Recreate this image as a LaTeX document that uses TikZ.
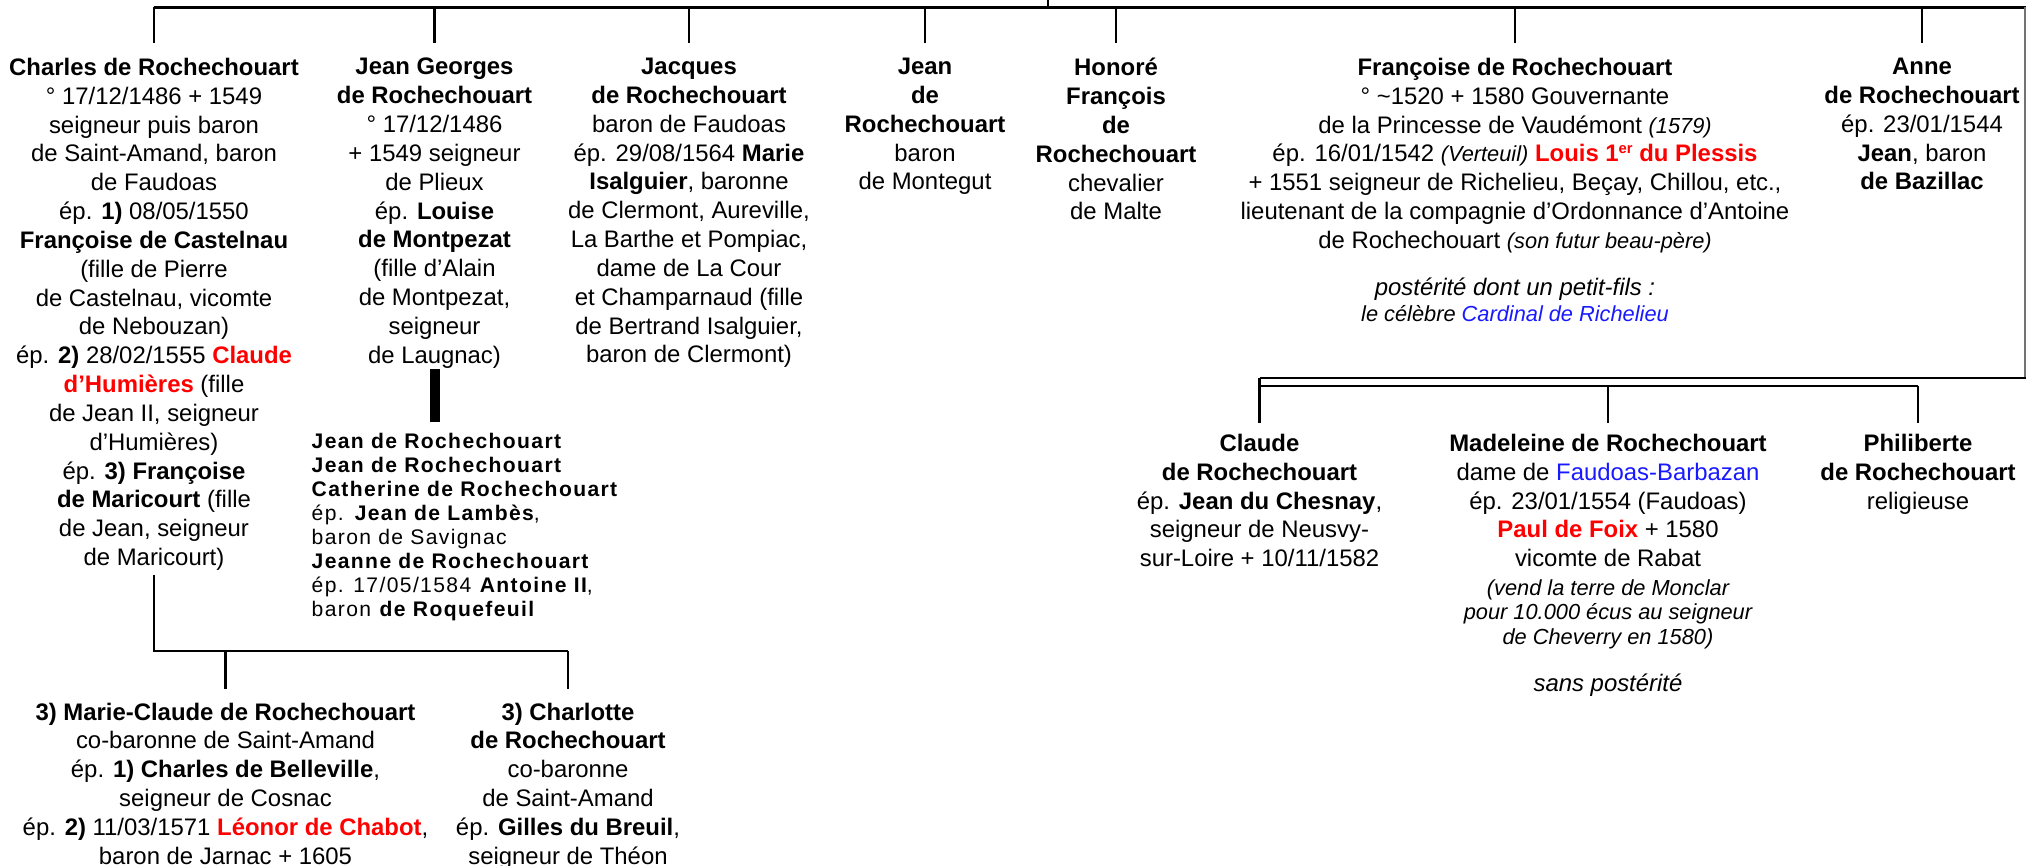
\documentclass[tikz,border=0pt]{standalone}
\usepackage{fontspec}
\setmainfont{Liberation Sans}
\newfontfamily\kidsfont[LetterSpace=6.5]{Liberation Sans}
\definecolor{namered}{RGB}{255,0,0}
\definecolor{linkblue}{RGB}{25,25,255}
\newcommand{\fsmain}{\fontsize{6.8pt}{8.2pt}\selectfont}
\newcommand{\fsnote}{\fontsize{6.2pt}{7.1pt}\selectfont}
\newcommand{\fskids}{\fontsize{6.0pt}{6.83pt}\selectfont}
\newcommand{\redname}[1]{\textcolor{namered}{\textbf{#1}}}
\newcommand{\bluename}[1]{\textcolor{linkblue}{#1}}
\newcommand{\aside}[1]{{\fsnote\itshape #1}}
\newcommand{\supr}[1]{\raisebox{2.3pt}{\fontsize{4.2pt}{5pt}\selectfont #1}}

\begin{document}
\begin{tikzpicture}[every node/.style={font=\fsmain, align=center, inner sep=0pt},
    tree/.style={line width=0.7pt}]
  \useasboundingbox (0,0) rectangle (20.26,-8.65);

  % premiere generation
  \node[anchor=north] (charles) at (1.54,-0.575) {\textbf{Charles de Rochechouart}\\ ° 17/12/1486 + 1549\\ seigneur puis baron\\ de Saint-Amand, baron\\ de Faudoas\\ ép. \textbf{1)} 08/05/1550\\ \textbf{Françoise de Castelnau}\\ (fille de Pierre\\ de Castelnau, vicomte\\ de Nebouzan)\\ ép. \textbf{2)} 28/02/1555 \redname{Claude}\\ \redname{d’Humières} (fille\\ de Jean II, seigneur\\ d’Humières)\\ ép. \textbf{3) Françoise}\\ \textbf{de Maricourt} (fille\\ de Jean, seigneur\\ de Maricourt)};
  \node[anchor=north] (jeanG) at (4.345,-0.575) {\textbf{Jean Georges}\\ \textbf{de Rochechouart}\\ ° 17/12/1486\\ + 1549 seigneur\\ de Plieux\\ ép. \textbf{Louise}\\ \textbf{de Montpezat}\\ (fille d’Alain\\ de Montpezat,\\ seigneur\\ de Laugnac)};
  \node[anchor=north] (jacques) at (6.89,-0.575) {\textbf{Jacques}\\ \textbf{de Rochechouart}\\ baron de Faudoas\\ ép. 29/08/1564 \textbf{Marie}\\ \textbf{Isalguier}, baronne\\ de Clermont, Aureville,\\ La Barthe et Pompiac,\\ dame de La Cour\\ et Champarnaud (fille\\ de Bertrand Isalguier,\\ baron de Clermont)};
  \node[anchor=north] (jean) at (9.25,-0.575) {\textbf{Jean}\\ \textbf{de}\\ \textbf{Rochechouart}\\ baron\\ de Montegut};
  \node[anchor=north] (honore) at (11.16,-0.575) {\textbf{Honoré}\\ \textbf{François}\\ \textbf{de}\\ \textbf{Rochechouart}\\ chevalier\\ de Malte};
  \node[anchor=north] (fran) at (15.15,-0.575) {\textbf{Françoise de Rochechouart}\\ ° \textasciitilde1520 + 1580 Gouvernante\\ de la Princesse de Vaudémont \aside{(1579)}\\ ép. 16/01/1542 \aside{(Verteuil)} \redname{Louis 1\supr{er} du Plessis}\\ + 1551 seigneur de Richelieu, Beçay, Chillou, etc.,\\ lieutenant de la compagnie d’Ordonnance d’Antoine\\ de Rochechouart \aside{(son futur beau-père)}};
  \node[anchor=north, font=\fsmain\itshape] (franNote) at (15.15,-2.775) {postérité dont un petit-fils :\\[-0.8pt] \aside{le célèbre \bluename{Cardinal de Richelieu}}};
  \node[anchor=north] (anne) at (19.22,-0.575) {\textbf{Anne}\\ \textbf{de Rochechouart}\\ ép. 23/01/1544\\ \textbf{Jean}, baron\\ \textbf{de Bazillac}};

  % enfants de Jean Georges
  \node[anchor=north west, align=left, font=\kidsfont\fskids] (kids) at (3.11,-4.32) {\textbf{Jean de Rochechouart}\\ \textbf{Jean de Rochechouart}\\ \textbf{Catherine de Rochechouart}\\ ép. \textbf{Jean de Lambès},\\ baron de Savignac\\ \textbf{Jeanne de Rochechouart}\\ ép. 17/05/1584 \textbf{Antoine II},\\ baron \textbf{de Roquefeuil}};

  % enfants de Francoise
  \node[anchor=north] (claude) at (12.595,-4.335) {\textbf{Claude}\\ \textbf{de Rochechouart}\\ ép. \textbf{Jean du Chesnay},\\ seigneur de Neusvy-\\ sur-Loire + 10/11/1582};
  \node[anchor=north] (mad) at (16.08,-4.335) {\textbf{Madeleine de Rochechouart}\\ dame de \bluename{Faudoas-Barbazan}\\ ép. 23/01/1554 (Faudoas)\\ \redname{Paul de Foix} + 1580\\ vicomte de Rabat};
  \node[anchor=north, font=\fsnote\itshape] (madNote) at (16.08,-5.785) {(vend la terre de Monclar\\ pour 10.000 écus au seigneur\\ de Cheverry en 1580)};
  \node[anchor=north, font=\fsmain\itshape] (madEnd) at (16.08,-6.735) {sans postérité};
  \node[anchor=north] (phil) at (19.18,-4.335) {\textbf{Philiberte}\\ \textbf{de Rochechouart}\\ religieuse};

  % enfants de Charles
  \node[anchor=north] (marie) at (2.255,-7.02) {\textbf{3) Marie-Claude de Rochechouart}\\ co-baronne de Saint-Amand\\ ép. \textbf{1) Charles de Belleville},\\ seigneur de Cosnac\\ ép. \textbf{2)} 11/03/1571 \redname{Léonor de Chabot},\\ baron de Jarnac + 1605};
  \node[anchor=north] (charlotte) at (5.68,-7.02) {\textbf{3) Charlotte}\\ \textbf{de Rochechouart}\\ co-baronne\\ de Saint-Amand\\ ép. \textbf{Gilles du Breuil},\\ seigneur de Théon};

  % traits
  \coordinate (topstub) at (10.48,0);
  \coordinate (topbar) at (10.48,-0.073);
  \coordinate (topR) at (20.26,-0.073);
  \draw[tree] (topstub) -- (topbar);
  \draw[tree] (charles.north |- topbar) -- (topR);
  \draw[tree, shorten >=1.45mm] (charles.north |- topbar) -- (charles.north);
  \draw[tree, shorten >=1.45mm] (jeanG.north |- topbar) -- (jeanG.north);
  \draw[tree, shorten >=1.45mm] (jacques.north |- topbar) -- (jacques.north);
  \draw[tree, shorten >=1.45mm] (jean.north |- topbar) -- (jean.north);
  \draw[tree, shorten >=1.45mm] (honore.north |- topbar) -- (honore.north);
  \draw[tree, shorten >=1.45mm] (fran.north |- topbar) -- (fran.north);
  \draw[tree, shorten >=1.45mm] (anne.north |- topbar) -- (anne.north);

  \draw[line width=1mm, shorten >=1mm] (jeanG.south) -- (jeanG.south |- kids.north);

  \coordinate (franbar) at (20.26,-3.78);
  \coordinate (sisbar) at (19.2,-3.86);
  \draw[tree, black!55] (topR -| 20.25,0) -- (20.25,-3.78);
  \draw[tree] (franbar) -- (claude.north |- franbar);
  \draw[tree] (claude.north |- sisbar) -- (phil.north |- sisbar);
  \draw[tree, shorten >=1.05mm] (claude.north |- franbar) -- (claude.north);
  \draw[tree, shorten >=1.05mm] (mad.north |- sisbar) -- (mad.north);
  \draw[tree, shorten >=1.05mm] (phil.north |- sisbar) -- (phil.north);

  \coordinate (charlesbar) at (1.535,-6.51);
  \draw[tree] ([yshift=-0.4mm]charles.south) |- (charlotte.north |- charlesbar);
  \draw[tree, shorten >=1.35mm] (marie.north |- charlesbar) -- (marie.north);
  \draw[tree, shorten >=1.35mm] (charlotte.north |- charlesbar) -- (charlotte.north);
\end{tikzpicture}
\end{document}
